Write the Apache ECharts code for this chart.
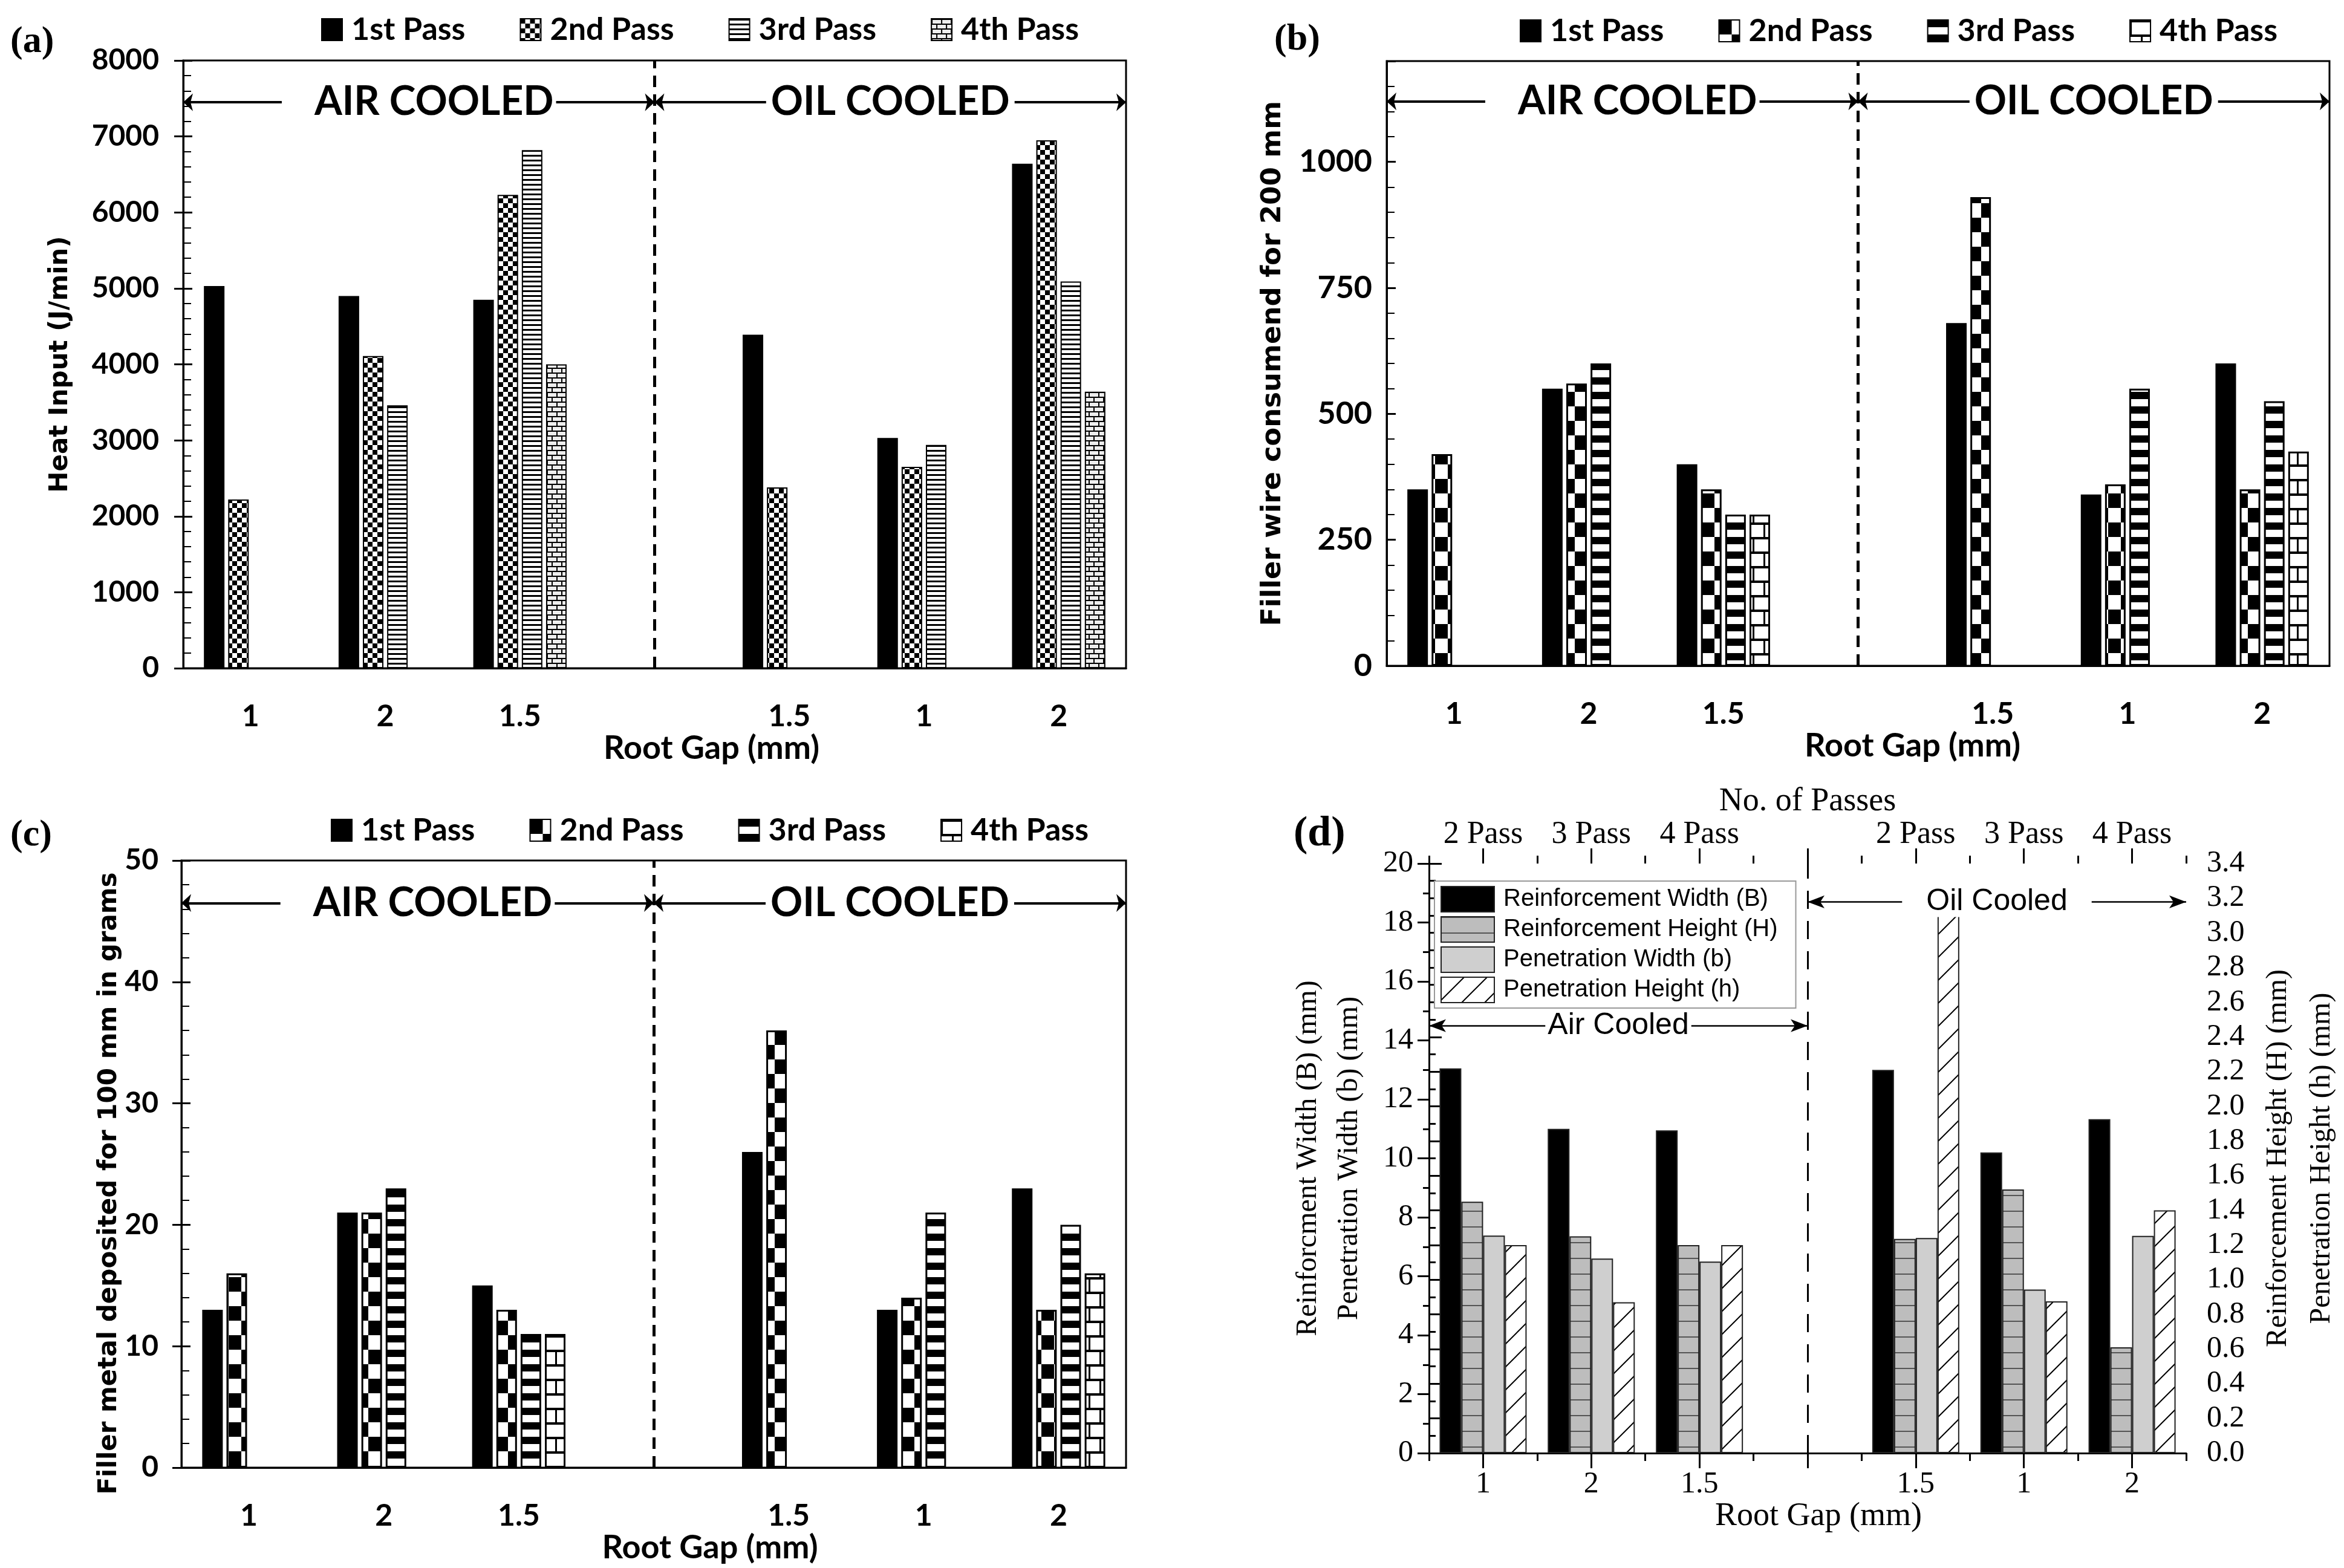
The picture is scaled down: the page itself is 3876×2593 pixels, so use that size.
<!DOCTYPE html>
<html>
<head>
<meta charset="utf-8">
<title>Root gap: heat input, filler and bead geometry</title>
<script src="https://cdn.jsdelivr.net/npm/echarts@6/dist/echarts.min.js"></script>
<style>
  html, body { margin: 0; padding: 0; background: #fff; }
  #page { position: relative; width: 3876px; height: 2593px; }
  .panel { position: absolute; left: 0; top: 0; width: 3876px; height: 2593px; }
</style>
</head>
<body>
<div id="page">
  <div class="panel" id="chartA"></div>
  <div class="panel" id="chartB"></div>
  <div class="panel" id="chartC"></div>
  <div class="panel" id="chartD"></div>
</div>
<script>
	// categories: 3 air cooled gaps, an empty slot for the divider, 3 oil cooled gaps
	var rootGaps = ['1', '2', '1.5', '', '1.5', '1', '2'];
	var passNames = ['1st Pass', '2nd Pass', '3rd Pass', '4th Pass'];
	var passTopLabels = ['2 Pass', '3 Pass', '4 Pass', '', '2 Pass', '3 Pass', '4 Pass'];

	// (a) heat input, J/min
	var heat1st = [5030, 4900, 4850, null, 4390, 3030, 6640];
	var heat2nd = [2220, 4110, 6230, null, 2380, 2650, 6950];
	var heat3rd = [null, 3460, 6820, null, null, 2940, 5090];
	var heat4th = [null, null, 4000, null, null, null, 3640];

	// (b) filler wire consumed for 200 mm
	var wire1st = [350, 550, 400, null, 680, 340, 600];
	var wire2nd = [420, 560, 350, null, 930, 360, 350];
	var wire3rd = [null, 600, 300, null, null, 550, 525];
	var wire4th = [null, null, 300, null, null, null, 425];

	// (c) filler metal deposited for 100 mm, grams
	var metal1st = [13, 21, 15, null, 26, 13, 23];
	var metal2nd = [16, 21, 13, null, 36, 14, 13];
	var metal3rd = [null, 23, 11, null, null, 21, 20];
	var metal4th = [null, null, 11, null, null, null, 16];

	// (d) bead geometry, mm (widths on left axis, heights on right axis)
	var beadNames = ['Reinforcement Width (B)', 'Reinforcement Height (H)', 'Penetration Width (b)', 'Penetration Height (h)'];
	var reinfWidth = [13.05, 11.0, 10.95, null, 13.0, 10.2, 11.33];
	var reinfHeight = [1.45, 1.25, 1.2, null, 1.235, 1.52, 0.61];
	var penWidth = [7.38, 6.6, 6.5, null, 7.3, 5.55, 7.37];
	var penHeight = [1.2, 0.87, 1.2, null, 3.1, 0.875, 1.4];

	var BOLD_SANS = 'Lato';
	var SERIF = 'Liberation Serif';

	function makePattern(w, h, draw) {
		var c = document.createElement('canvas');
		c.width = w;
		c.height = h;
		var g = c.getContext('2d');
		g.fillStyle = '#fff';
		g.fillRect(0, 0, w, h);
		g.fillStyle = '#000';
		g.strokeStyle = '#000';
		draw(g, w, h);
		return { image: c, repeat: 'repeat' };
	}

	// fills for panel (a)
	var fineChecker = makePattern(16, 16, function (g) {
		g.fillRect(0, 0, 8, 8);
		g.fillRect(8, 8, 8, 8);
	});
	var fineLines = makePattern(8, 8, function (g) {
		g.fillRect(0, 0, 8, 3);
	});
	var smallBrick = makePattern(16, 16, function (g) {
		g.fillStyle = '#eee';
		g.fillRect(0, 0, 16, 16);
		g.fillStyle = '#000';
		g.fillRect(0, 0, 16, 2);
		g.fillRect(0, 8, 16, 2);
		g.fillRect(0, 0, 2, 8);
		g.fillRect(8, 8, 2, 8);
	});
	// fills for panels (b) and (c)
	var bigChecker = makePattern(42, 48, function (g) {
		g.fillRect(0, 0, 21, 24);
		g.fillRect(21, 24, 21, 24);
	});
	var wideStripes = makePattern(10, 24, function (g) {
		g.fillRect(0, 0, 10, 12);
	});
	var bigBrick = makePattern(36, 48, function (g) {
		g.fillRect(0, 0, 36, 4);
		g.fillRect(0, 24, 36, 4);
		g.fillRect(0, 0, 3, 24);
		g.fillRect(18, 24, 3, 24);
	});
	// fills for panel (d)
	var greyLines = makePattern(8, 26, function (g) {
		g.fillStyle = '#bdbdbd';
		g.fillRect(0, 0, 8, 26);
		g.fillStyle = '#555';
		g.fillRect(0, 0, 8, 2);
	});
	var diagonal = makePattern(38, 38, function (g) {
		g.lineWidth = 2;
		g.beginPath();
		g.moveTo(0, 38); g.lineTo(38, 0);
		g.moveTo(-4, 4); g.lineTo(4, -4);
		g.moveTo(34, 42); g.lineTo(42, 34);
		g.stroke();
	});

	function plainNumber(v) {
		return String(v);
	}

	// dashed divider between air and oil cooled, plus the two labelled arrows
	function dividerSeries(xIndex, arrowYs, labels, style) {
		var dashed = {
			type: 'line', xAxisIndex: xIndex, yAxisIndex: 0, data: [], silent: true, z: 1,
			markLine: {
				silent: true, animation: false, symbol: 'none',
				lineStyle: { color: '#000', width: style.dashWidth, type: style.dash },
				label: { show: false },
				data: [{ xAxis: 3.5 }]
			}
		};
		var arrows = {
			type: 'line', xAxisIndex: xIndex, yAxisIndex: 0, data: [], silent: true, z: 1,
			markLine: {
				silent: true, animation: false,
				symbol: ['arrow', 'arrow'], symbolSize: style.arrowSize,
				lineStyle: { color: '#000', width: style.arrowWidth, type: 'solid' },
				label: {
					show: true, position: 'insideMiddle', formatter: '{b}', color: '#000',
					fontFamily: style.font, fontWeight: style.weight, fontSize: style.size,
					backgroundColor: '#fff'
				},
				data: [
					[{ coord: [0, arrowYs[0]], name: labels[0], label: { padding: style.pad[0] } }, { coord: [3.5, arrowYs[0]] }],
					[{ coord: [3.5, arrowYs[1]], name: labels[1], label: { padding: style.pad[1] } }, { coord: [7, arrowYs[1]] }]
				]
			}
		};
		return [dashed, arrows];
	}

	function passPanel(p) {
		var left = p.box[0], top = p.box[1];
		var width = p.box[2] - left, height = p.box[3] - top;
		var yAxes = [{
			type: 'value', min: 0, max: p.yMax, interval: p.yStep,
			axisLine: { show: true, lineStyle: { color: '#000', width: 3 } },
			axisTick: { show: true, inside: true, length: 15, lineStyle: { color: '#000', width: 3 } },
			minorTick: { show: true, splitNumber: p.yMinor, length: 13, lineStyle: { color: '#000', width: 2 } },
			splitLine: { show: false },
			axisLabel: {
				margin: p.labelMargin, color: '#000', fontFamily: BOLD_SANS, fontWeight: 'bold',
				fontSize: p.tickSize, showMaxLabel: p.showMax, formatter: plainNumber
			},
			name: p.yName, nameLocation: 'middle', nameGap: p.yNameGap, nameRotate: 90,
			nameTextStyle: { color: '#000', fontFamily: 'DejaVu Sans', fontWeight: 'bold', fontSize: p.yNameSize, padding: p.yNamePad || 0 }
		}];
		if (p.crossTicks) {
			// second copy of the scale, only to let the major ticks cross the axis
			yAxes.push({
				type: 'value', min: 0, max: p.yMax, interval: p.yStep, position: 'left',
				axisLine: { show: false }, axisLabel: { show: false }, splitLine: { show: false },
				axisTick: { show: true, length: 15, lineStyle: { color: '#000', width: 3 } }
			});
		}
		var fills = p.fills;
		var series = p.values.map(function (vals, i) {
			return {
				name: passNames[i], type: 'bar', data: vals, barWidth: 34, barGap: '18%',
				itemStyle: { color: fills[i], borderColor: '#000', borderWidth: p.border }
			};
		});
		series = series.concat(dividerSeries(1, [p.arrowY, p.arrowY], ['AIR COOLED', 'OIL COOLED'], {
			arrowSize: [22, 16], arrowWidth: 4, dash: [19, 12], dashWidth: 5,
			font: BOLD_SANS, weight: 'bold', size: 66, pad: [[0, 4, 0, 54], [0, 8]]
		}));
		return {
			animation: false,
			title: {
				text: p.tag, left: p.tagPos[0], top: p.tagPos[1],
				textStyle: { color: '#000', fontFamily: SERIF, fontWeight: 'bold', fontSize: 62 }
			},
			legend: {
				data: passNames, left: p.legendPos[0], top: p.legendPos[1], icon: 'rect',
				itemWidth: 34, itemHeight: 36, itemGap: 90, selectedMode: false,
				textStyle: { color: '#000', fontFamily: BOLD_SANS, fontWeight: 'bold', fontSize: 52, padding: [0, 0, 0, 10] }
			},
			grid: { left: left, top: top, width: width, height: height, show: true, borderColor: '#000', borderWidth: 3 },
			xAxis: [{
				type: 'category', data: rootGaps,
				axisLine: { show: true, lineStyle: { color: '#000', width: 3 } },
				axisTick: { show: false },
				axisLabel: { margin: 55, color: '#000', fontFamily: BOLD_SANS, fontWeight: 'bold', fontSize: 50, interval: 0 },
				name: 'Root Gap (mm)', nameLocation: 'middle', nameGap: p.xNameGap,
				nameTextStyle: { color: '#000', fontFamily: BOLD_SANS, fontWeight: 'bold', fontSize: 54, padding: [0, 0, 0, p.xNameShift] }
			}, {
				type: 'value', min: 0, max: 7, show: false
			}],
			yAxis: yAxes,
			series: series
		};
	}

	var optionA = passPanel({
		tag: '(a)', tagPos: [12, 34], box: [303, 100, 1862, 1105],
		yMax: 8000, yStep: 1000, yMinor: 5, tickSize: 48, labelMargin: 40, showMax: true,
		yName: 'Heat Input (J/min)', yNameSize: 42, yNameGap: 182, crossTicks: true,
		legendPos: [526, 18], arrowY: 7450, xNameGap: 95, xNameShift: 188, border: 2,
		values: [heat1st, heat2nd, heat3rd, heat4th],
		fills: ['#000', fineChecker, fineLines, smallBrick]
	});
	var optionB = passPanel({
		tag: '(b)', tagPos: [2102, 30], box: [2293, 101, 3852, 1101],
		yMax: 1200, yStep: 250, yMinor: 5, tickSize: 52, labelMargin: 24, showMax: false,
		yName: 'Filler wire consumend for 200 mm', yNameSize: 45, yNameGap: 165, crossTicks: false,
		legendPos: [2508, 20], arrowY: 1120, xNameGap: 95, xNameShift: 180, border: 3,
		values: [wire1st, wire2nd, wire3rd, wire4th],
		fills: ['#000', bigChecker, wideStripes, bigBrick]
	});
	var optionC = passPanel({
		tag: '(c)', tagPos: [12, 1346], box: [300, 1423, 1862, 2427],
		yMax: 50, yStep: 10, yMinor: 5, tickSize: 48, labelMargin: 38, showMax: true,
		yName: 'Filler metal deposited for 100 mm in grams', yNameSize: 42, yNameGap: 92, crossTicks: true,
		yNamePad: [0, 64, 0, 0],
		legendPos: [542, 1342], arrowY: 46.5, xNameGap: 100, xNameShift: 186, border: 3,
		values: [metal1st, metal2nd, metal3rd, metal4th],
		fills: ['#000', bigChecker, wideStripes, bigBrick]
	});

	function tickAxis(position) {
		return {
			type: 'value', min: 0, max: 7, interval: 1, position: position,
			axisLine: { show: false }, axisLabel: { show: false }, splitLine: { show: false },
			axisTick: { show: true, length: 13, lineStyle: { color: '#000', width: 3 } },
			minorTick: { show: true, splitNumber: 2, length: 25, lineStyle: { color: '#000', width: 3 } }
		};
	}

	function beadPanel() {
		var left = 2363, top = 1428, right = 3618, bottom = 2403;
		var serifLabel = { color: '#000', fontFamily: SERIF, fontSize: 50 };
		var fills = ['#000', greyLines, '#cfcfcf', diagonal];
		var axisFor = [0, 1, 0, 1];
		var values = [reinfWidth, reinfHeight, penWidth, penHeight];
		var series = values.map(function (vals, i) {
			return {
				name: beadNames[i], type: 'bar', data: vals, yAxisIndex: axisFor[i],
				barWidth: 36, barGap: '0%',
				itemStyle: { color: fills[i], borderColor: '#222', borderWidth: 2 }
			};
		});
		series = series.concat(dividerSeries(2, [14.5, 18.7], ['Air Cooled', 'Oil Cooled'], {
			arrowSize: [16, 28], arrowWidth: 2.5, dash: [30, 20], dashWidth: 3,
			font: 'Liberation Sans', weight: 'normal', size: 50, pad: [[0, 4], [0, 40]]
		}));

		return {
			animation: false,
			title: {
				text: '(d)', left: 2134, top: 1340,
				textStyle: { color: '#000', fontFamily: SERIF, fontWeight: 'bold', fontSize: 70 }
			},
			legend: {
				data: beadNames, orient: 'vertical', left: 2372, top: 1457, icon: 'rect',
				itemWidth: 88, itemHeight: 42, itemGap: 6, selectedMode: false,
				padding: [8, 30, 8, 10], borderColor: '#999', borderWidth: 2, backgroundColor: '#fff',
				textStyle: { color: '#000', fontFamily: 'Liberation Sans', fontSize: 40, padding: [0, 0, 0, 10] }
			},
			grid: { left: left, top: top, width: right - left, height: bottom - top, show: false },
			xAxis: [{
				type: 'category', data: rootGaps, position: 'bottom',
				axisLine: { show: true, lineStyle: { color: '#000', width: 3 } },
				axisTick: { show: false },
				axisLabel: Object.assign({ margin: 27, interval: 0 }, serifLabel),
				name: 'Root Gap (mm)', nameLocation: 'middle', nameGap: 78,
				nameTextStyle: { color: '#000', fontFamily: SERIF, fontSize: 54, padding: [0, 0, 0, 36] }
			}, {
				type: 'category', data: passTopLabels, position: 'top',
				axisLine: { show: true, lineStyle: { color: '#000', width: 3 } },
				axisTick: { show: false },
				axisLabel: { margin: 22, interval: 0, color: '#000', fontFamily: SERIF, fontSize: 52 },
				name: 'No. of Passes', nameLocation: 'middle', nameGap: 74,
				nameTextStyle: { color: '#000', fontFamily: SERIF, fontSize: 54 }
			}, tickAxis('bottom'), tickAxis('top')],
			yAxis: [{
				type: 'value', min: 0, max: 20, interval: 2, position: 'left',
				axisLine: { show: true, lineStyle: { color: '#000', width: 3 } },
				axisTick: { show: true, length: 19, lineStyle: { color: '#000', width: 3 } },
				minorTick: { show: true, splitNumber: 2, length: 10, lineStyle: { color: '#000', width: 3 } },
				splitLine: { show: false },
				axisLabel: Object.assign({ margin: 26 }, serifLabel),
				name: 'Reinforcment Width (B) (mm)\nPenetration Width (b) (mm)',
				nameLocation: 'middle', nameGap: 98, nameRotate: 90,
				nameTextStyle: { color: '#000', fontFamily: SERIF, fontSize: 48, lineHeight: 68 }
			}, {
				type: 'value', min: 0, max: 3.4, interval: 0.2, position: 'right',
				axisLine: { show: true, lineStyle: { color: '#000', width: 3 } },
				axisTick: { show: true, length: 21, lineStyle: { color: '#000', width: 3 } },
				minorTick: { show: true, splitNumber: 2, length: 11, lineStyle: { color: '#000', width: 3 } },
				splitLine: { show: false },
				axisLabel: Object.assign({ margin: 34, formatter: function (v) { return v.toFixed(1); } }, serifLabel),
				name: 'Reinforcement Height (H) (mm)\nPenetration Height (h) (mm)',
				nameLocation: 'middle', nameGap: 116, nameRotate: 90,
				nameTextStyle: { color: '#000', fontFamily: SERIF, fontSize: 48, lineHeight: 72 }
			}],
			series: series
		};
	}

	echarts.init(document.getElementById('chartA')).setOption(optionA);
	echarts.init(document.getElementById('chartB')).setOption(optionB);
	echarts.init(document.getElementById('chartC')).setOption(optionC);
	echarts.init(document.getElementById('chartD')).setOption(beadPanel());
</script>
</body>
</html>
